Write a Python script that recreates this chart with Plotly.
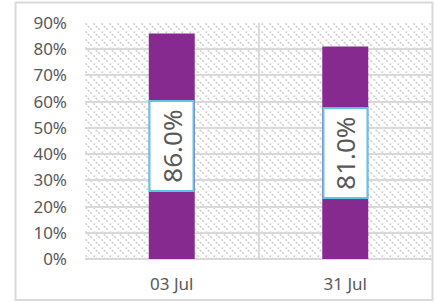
import base64
import plotly.graph_objects as go

categories = ["03 Jul", "31 Jul"]
values = [0.86, 0.81]
labels = ["86.0%", "81.0%"]

BAR = "#872A8F"
GRID = "#d9d9d9"
TXT = "#595959"

PW, PH = 347, 236  # plot area size in px
L, T = 85, 23

# hatch background for the plot area (decoration only)
svg = (
    f'<svg xmlns="http://www.w3.org/2000/svg" width="{PW}" height="{PH}" '
    f'preserveAspectRatio="none" viewBox="0 0 {PW} {PH}">'
    '<defs><pattern id="p" width="8" height="8" patternUnits="userSpaceOnUse">'
    '<path d="M-2,-2 L10,10 M-2,6 L2,10 M6,-2 L10,2" stroke="#d5d5d5" stroke-width="1.8" '
    'stroke-dasharray="2.2,1.2"/></pattern></defs>'
    f'<rect width="{PW}" height="{PH}" fill="white"/>'
    f'<rect width="{PW}" height="{PH}" fill="url(#p)"/></svg>'
)
src = "data:image/svg+xml;base64," + base64.b64encode(svg.encode()).decode()

fig = go.Figure()
fig.add_trace(go.Bar(x=categories, y=values, marker=dict(color=BAR, line=dict(width=0)),
                     width=0.265, hoverinfo="skip"))

for c, v, t in zip(categories, values, labels):
    fig.add_annotation(x=c, y=v / 2, text="\u2009" + t + "\u2009", showarrow=False, textangle=-90,
                       font=dict(family="Noto Sans", size=26, color=TXT),
                       bgcolor="white", bordercolor="#5CC6E6", borderwidth=2, borderpad=3)

def px_x(p):
    return (p - L) / PW

def px_y(p):
    return (T + PH - p) / PH

fig.update_layout(
    width=438, height=302,
    margin=dict(l=L, r=438 - L - PW, t=T, b=302 - T - PH),
    paper_bgcolor="white", plot_bgcolor="rgba(0,0,0,0)",
    showlegend=False,
    images=[dict(source=src, xref="paper", yref="paper", x=0, y=1, sizex=1, sizey=1,
                 sizing="stretch", layer="below", xanchor="left", yanchor="top")],
    shapes=[dict(type="rect", xref="paper", yref="paper",
                 x0=px_x(15.5), x1=px_x(432.5), y0=px_y(300), y1=px_y(2.5),
                 line=dict(color=GRID, width=2), fillcolor="rgba(0,0,0,0)", layer="above")],
)
fig.update_xaxes(tickson="boundaries", showgrid=True, gridcolor=GRID, gridwidth=1.5,
                 ticks="", showline=False, zeroline=False,
                 tickfont=dict(family="Noto Sans", size=17, color=TXT), ticklabelstandoff=13)
fig.update_yaxes(range=[0, 0.9], dtick=0.1, tickformat=".0%", showgrid=True, gridcolor=GRID,
                 gridwidth=1.5, zeroline=True, zerolinecolor=GRID, zerolinewidth=1.5,
                 ticks="", showline=False,
                 tickfont=dict(family="Noto Sans", size=17, color=TXT), ticklabelstandoff=17)

fig.write_html("out.html", config={"displayModeBar": False},
               post_script="document.body.style.margin='0';")
